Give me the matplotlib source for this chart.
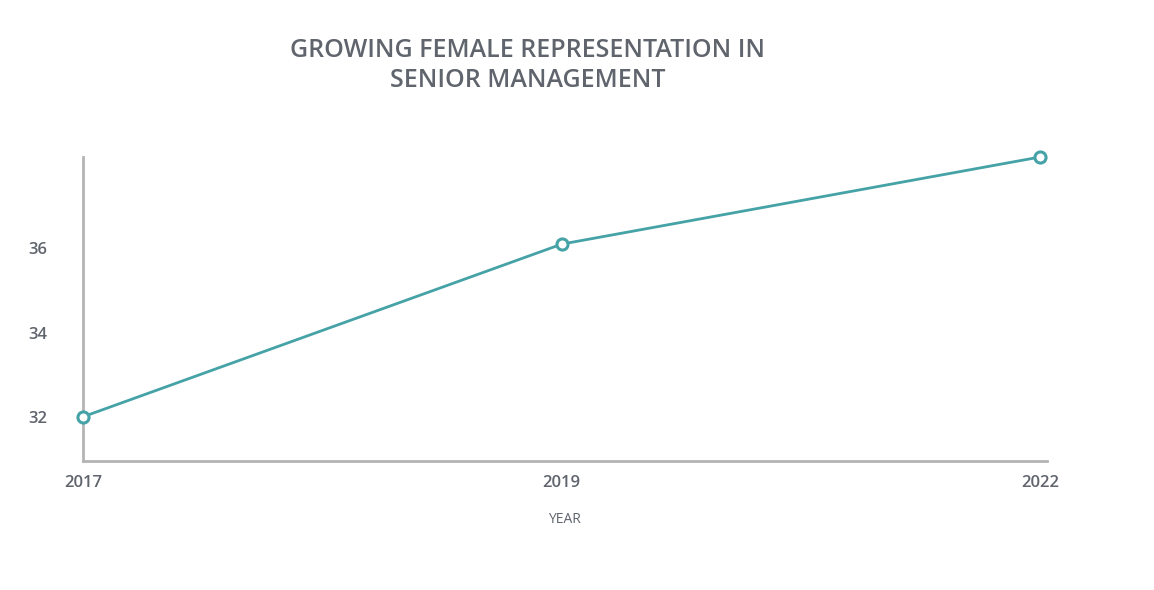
import matplotlib.pyplot as plt
import numpy as np

plt.rcParams['font.family'] = ['Open Sans', 'Lato', 'DejaVu Sans']

years = ["2017", "2019", "2022"]
share = [32.0, 36.1, 38.17]
y_ticks = [32, 34, 36]

TEAL = "#45a2a6"
GREY_TXT = "#5f646d"
GREY_AX = "#b4b4b4"

fig = plt.figure(figsize=(11.54, 5.9), dpi=100)
ax = fig.add_axes([0.0719, 0.2186, 0.9070 - 0.0719, 0.734 - 0.2186])

xs = np.arange(len(years))
ax.plot(xs, share, color=TEAL, lw=2, marker="o", ms=8, mfc="white",
        mec=TEAL, mew=2.2, clip_on=False, zorder=3)

ax.set_xlim(0, 2.013)
ax.set_ylim(30.95, 38.17)
ax.set_xticks(xs)
ax.set_xticklabels(years)
ax.set_yticks(y_ticks)

for s in ["top", "right"]:
    ax.spines[s].set_visible(False)
for s in ["left", "bottom"]:
    ax.spines[s].set_color(GREY_AX)
    ax.spines[s].set_linewidth(2)

ax.tick_params(axis="both", length=0, labelsize=12, labelcolor=GREY_TXT)
ax.tick_params(axis="y", pad=26)
ax.tick_params(axis="x", pad=10)
for lab in ax.get_xticklabels() + ax.get_yticklabels():
    lab.set_fontweight("semibold")

ax.set_xlabel("YEAR", fontsize=10, color=GREY_TXT, labelpad=15)

fig.text(0.457, 0.889, "GROWING FEMALE REPRESENTATION IN\nSENIOR MANAGEMENT",
         ha="center", va="center", fontsize=18, fontweight="semibold",
         color=GREY_TXT, linespacing=1.28)

fig.savefig("out.png", dpi=100)
